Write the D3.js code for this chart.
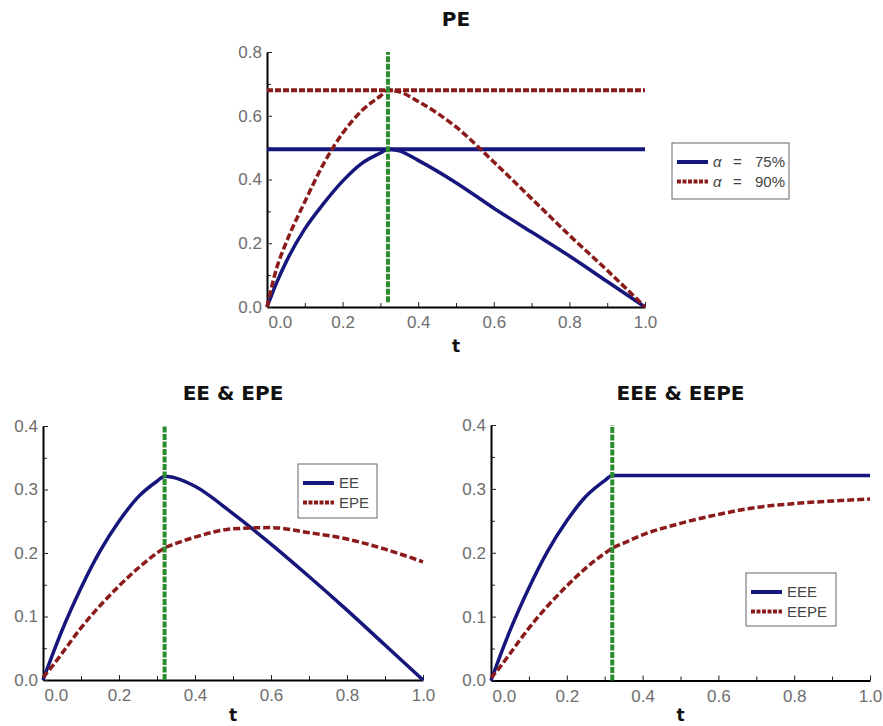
<!DOCTYPE html>
<html>
<head>
<meta charset="utf-8">
<script src="https://cdn.jsdelivr.net/npm/d3@7"></script>
<style>
body{margin:0;background:#fff}
svg{display:block}
.tick text{font-family:"Liberation Sans",Arial,sans-serif;font-size:17px;fill:#6e6e6e}
.ttl{font-family:"DejaVu Sans",sans-serif;font-weight:bold;font-size:20px;fill:#111}
.lg{font-family:"Liberation Sans",Arial,sans-serif;font-size:15px;fill:#444}
</style>
</head>
<body>
<div id="chart"></div>
<script>
// time grid shared by every series
var tVals = [0, 0.025, 0.05, 0.1, 0.15, 0.2, 0.25, 0.3, 0.32, 0.35, 0.4, 0.5, 0.6, 0.7, 0.8, 0.9, 1.0];

// PE at two confidence levels
var pe75 = [0, 0.075, 0.14, 0.245, 0.325, 0.395, 0.45, 0.483, 0.495, 0.49, 0.46, 0.39, 0.31, 0.235, 0.16, 0.08, 0];
var pe90 = [0, 0.12, 0.2, 0.33, 0.45, 0.545, 0.615, 0.662, 0.68, 0.675, 0.645, 0.565, 0.455, 0.34, 0.225, 0.115, 0];

// EE / EPE
var ee  = [0, 0.04, 0.078, 0.145, 0.203, 0.25, 0.288, 0.313, 0.321, 0.318, 0.305, 0.262, 0.214, 0.163, 0.11, 0.055, 0];
var epe = [0.004, 0.022, 0.042, 0.082, 0.117, 0.148, 0.176, 0.2, 0.208, 0.215, 0.225, 0.238, 0.24, 0.232, 0.222, 0.206, 0.186];

// EEE / EEPE
var eee  = [0, 0.04, 0.078, 0.145, 0.203, 0.25, 0.288, 0.313, 0.321, 0.321, 0.321, 0.321, 0.321, 0.321, 0.321, 0.321, 0.321];
var eepe = [0.004, 0.022, 0.042, 0.082, 0.117, 0.148, 0.176, 0.199, 0.207, 0.215, 0.228, 0.246, 0.26, 0.271, 0.277, 0.281, 0.284];

var tCut = 0.32;

var xTicks = [0, 0.2, 0.4, 0.6, 0.8, 1.0];
var xMinor = [0.1, 0.3, 0.5, 0.7, 0.9];
var yTicksTop = [0, 0.2, 0.4, 0.6, 0.8];
var yMinorTop = [0.1, 0.3, 0.5, 0.7];
var yTicksBot = [0, 0.1, 0.2, 0.3, 0.4];
var yMinorBot = [0.05, 0.15, 0.25, 0.35];

var BLUE = "#16167c", RED = "#8b1a1a", GREEN = "#2a8c2a";

var svg = d3.select("#chart").append("svg").attr("width", 883).attr("height", 726);

var panel = function(p){
    var x = d3.scaleLinear().domain([0, 1]).range([p.left, p.right]);
    var y = d3.scaleLinear().domain([0, p.yMax]).range([p.bottom, p.top]);
    var g = svg.append("g");

    g.append("text").attr("class","ttl").attr("x",(p.left+p.right)/2).attr("y",p.titleY)
        .attr("text-anchor","middle").text(p.title);
    g.append("text").attr("class","ttl").attr("x",(p.left+p.right)/2).attr("y",p.xLabelY)
        .attr("text-anchor","middle").style("font-size","17px").text("t");

    // minor ticks
    g.append("g").attr("transform","translate(0,"+p.bottom+")")
        .call(d3.axisBottom(x).tickValues(xMinor).tickSize(-4).tickSizeOuter(0).tickFormat(""))
        .call(function(a){ a.select(".domain").remove(); a.selectAll("line").attr("stroke","#222"); });
    g.append("g").attr("transform","translate("+p.left+",0)")
        .call(d3.axisLeft(y).tickValues(p.yMinor).tickSize(-4).tickSizeOuter(0).tickFormat(""))
        .call(function(a){ a.select(".domain").remove(); a.selectAll("line").attr("stroke","#222"); });

    var xa = g.append("g").attr("transform","translate(0,"+p.bottom+")")
        .call(d3.axisBottom(x).tickValues(xTicks).tickSize(-5).tickSizeOuter(0).tickPadding(9).tickFormat(d3.format(".1f")));
    xa.select(".domain").attr("stroke","#000").attr("stroke-width",2);
    xa.selectAll("line").attr("stroke","#222");
    xa.selectAll(".tick text").filter(function(d){ return d === 0; }).attr("text-anchor","start").attr("x",1);

    var ya = g.append("g").attr("transform","translate("+p.left+",0)")
        .call(d3.axisLeft(y).tickValues(p.yTicks).tickSize(-5).tickSizeOuter(0).tickPadding(5).tickFormat(d3.format(".1f")));
    ya.select(".domain").attr("stroke","#000").attr("stroke-width",2);
    ya.selectAll("line").attr("stroke","#222");

    var line = d3.line().x(function(d,i){ return x(tVals[i]); }).y(function(d){ return y(d); }).curve(d3.curveMonotoneX);

    // horizontal peak levels (top panel only)
    (p.peaks || []).forEach(function(s){
        var lv = d3.max(s.vals);
        g.append("line").attr("x1",x(0)).attr("x2",x(1)).attr("y1",y(lv)).attr("y2",y(lv))
            .attr("stroke",s.color).attr("stroke-width",4).attr("stroke-dasharray",s.dash);
    });

    p.series.forEach(function(s){
        g.append("path").datum(s.vals).attr("d",line).attr("fill","none")
            .attr("stroke",s.color).attr("stroke-width",3.5).attr("stroke-dasharray",s.dash);
    });

    g.append("line").attr("x1",x(tCut)).attr("x2",x(tCut)).attr("y1",y(p.greenLow)).attr("y2",y(p.yMax))
        .attr("stroke",GREEN).attr("stroke-width",4).attr("stroke-dasharray","6,1.5");

    // legend
    var L = p.legend;
    g.append("rect").attr("x",L.x).attr("y",L.y).attr("width",L.w).attr("height",L.h)
        .attr("fill","#fff").attr("stroke","#666").attr("stroke-width",1);
    p.series.forEach(function(s,i){
        var ly = L.y + 19 + i*19.5;
        g.append("line").attr("x1",L.x+5).attr("x2",L.x+36).attr("y1",ly).attr("y2",ly)
            .attr("stroke",s.color).attr("stroke-width",4).attr("stroke-dasharray",s.dash ? "4,1.5" : null);
        var t = g.append("text").attr("class","lg").attr("x",L.x+41).attr("y",ly+5);
        if (s.alpha){
            t.append("tspan").style("font-style","italic").text("α");
            t.append("tspan").attr("x",L.x+61).text("=");
            t.append("tspan").attr("x",L.x+83).text(s.alpha);
        } else {
            t.text(s.name);
        }
    });
};

panel({
    left: 267, right: 645, top: 52, bottom: 307, yMax: 0.8,
    title: "PE", titleY: 26, xLabelY: 352,
    yTicks: yTicksTop, yMinor: yMinorTop, greenLow: 0.015,
    peaks: [{vals: pe75, color: BLUE, dash: null}, {vals: pe90, color: RED, dash: "6,2"}],
    series: [{vals: pe75, color: BLUE, dash: null, alpha: "75%"},
             {vals: pe90, color: RED, dash: "7,3", alpha: "90%"}],
    legend: {x: 672, y: 143, w: 117, h: 56}
});

panel({
    left: 43, right: 423, top: 426, bottom: 680, yMax: 0.4,
    title: "EE & EPE", titleY: 400, xLabelY: 721,
    yTicks: yTicksBot, yMinor: yMinorBot, greenLow: 0,
    series: [{vals: ee, color: BLUE, dash: null, name: "EE"},
             {vals: epe, color: RED, dash: "7,3", name: "EPE"}],
    legend: {x: 298, y: 464, w: 79, h: 54}
});

panel({
    left: 491, right: 870, top: 425, bottom: 680.5, yMax: 0.4,
    title: "EEE & EEPE", titleY: 400, xLabelY: 721,
    yTicks: yTicksBot, yMinor: yMinorBot, greenLow: 0,
    series: [{vals: eee, color: BLUE, dash: null, name: "EEE"},
             {vals: eepe, color: RED, dash: "7,3", name: "EEPE"}],
    legend: {x: 746, y: 573, w: 90, h: 53}
});
</script>
</body>
</html>
